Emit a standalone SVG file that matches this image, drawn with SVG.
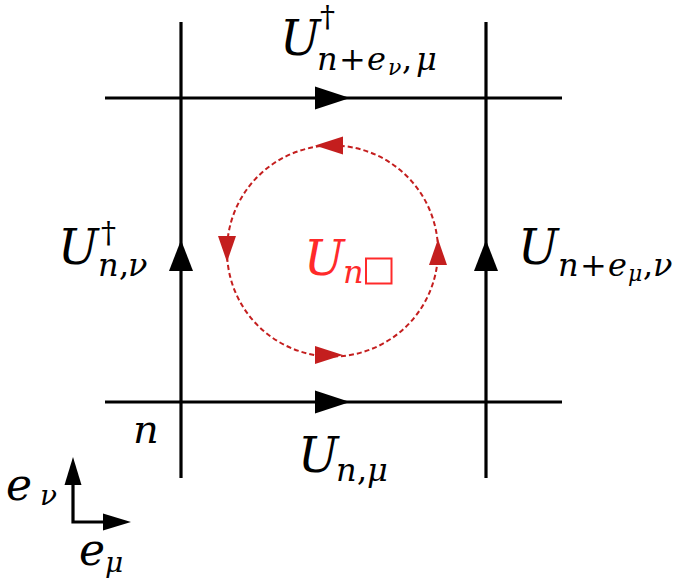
<svg xmlns="http://www.w3.org/2000/svg" width="689" height="581" viewBox="0 0 689 581">
<style>
.ln{stroke:#000;stroke-width:3.2;fill:none}
.ah{fill:#000}
.rc{stroke:#c41e1e;stroke-width:2;fill:none;stroke-dasharray:5 3}
.rh{fill:#c41e1e}
.t{font-family:"DejaVu Serif","Liberation Serif",serif;font-style:italic;fill:#000}
.u{font-size:48px}
.s{font-size:32px}
.ss{font-size:22px}
.dg{font-size:30px;font-style:normal}
.up{font-style:normal}
.red{fill:#ff2a2a}
</style>
<rect width="689" height="581" fill="#fff"/>
<g id="connectors">
  <line class="ln" x1="181" y1="22" x2="181" y2="478"/>
  <line class="ln" x1="486" y1="22" x2="486" y2="478"/>
  <line class="ln" x1="105" y1="98" x2="562" y2="98"/>
  <line class="ln" x1="105" y1="402" x2="562" y2="402"/>
  <polygon class="ah" points="315,86.5 350,98 315,109.5"/>
  <polygon class="ah" points="315,390.5 350,402 315,413.5"/>
  <polygon class="ah" points="169,271 181,240 193,271"/>
  <polygon class="ah" points="474,271 486,240 498,271"/>
  <circle class="rc" cx="332.5" cy="251" r="105.5"/>
  <polygon class="rh" points="343,136.5 315,145.5 343,154.5"/>
  <polygon class="rh" points="315,346 343,355 315,364"/>
  <polygon class="rh" points="218,236 227,262 236,236"/>
  <polygon class="rh" points="429,265 438,239 447,265"/>
  <g id="axes">
    <polyline class="ln" points="73,480 73,522 106,522"/>
    <polygon class="ah" points="64.5,485 73,457 81.5,485"/>
    <polygon class="ah" points="103,513.5 131,522 103,530.5"/>
  </g>
</g>
<g id="label-top">
  <text class="t u" x="280" y="55">U</text>
  <text class="t dg" x="320" y="27">†</text>
  <text class="t s" y="70"><tspan x="317">n</tspan><tspan class="up" x="339">+</tspan><tspan x="367">e</tspan><tspan class="ss" x="388" y="75">ν</tspan><tspan class="up" x="402" y="70">,</tspan><tspan x="416">μ</tspan></text>
</g>
<g id="label-left">
  <text class="t u" x="58" y="264">U</text>
  <text class="t dg" x="101" y="243">†</text>
  <text class="t s" y="276"><tspan x="98">n</tspan><tspan class="up" x="119">,</tspan><tspan x="128">ν</tspan></text>
</g>
<g id="label-right">
  <text class="t u" x="518" y="264">U</text>
  <text class="t s" y="276"><tspan x="558">n</tspan><tspan class="up" x="580">+</tspan><tspan x="608">e</tspan><tspan class="ss" x="628" y="281">μ</tspan><tspan class="up" x="643" y="276">,</tspan><tspan x="653">ν</tspan></text>
</g>
<g id="label-bottom">
  <text class="t u" x="298" y="472">U</text>
  <text class="t s" y="481"><tspan x="336">n</tspan><tspan class="up" x="357">,</tspan><tspan x="367">μ</tspan></text>
</g>
<g id="label-n">
  <text class="t" style="font-size:40px" x="133" y="443">n</text>
</g>
<g id="label-plaquette">
  <text class="t u red" x="304" y="275">U</text>
  <text class="t s red" x="343" y="283">n</text>
  <rect x="366" y="258.5" width="25.5" height="25" fill="none" stroke="#ff2a2a" stroke-width="2"/>
</g>
<g id="label-axes">
  <text class="t" style="font-size:44px" x="6" y="500">e</text>
  <text class="t" style="font-size:28px" x="40" y="505">ν</text>
  <text class="t" style="font-size:44px" x="79" y="565">e</text>
  <text class="t" style="font-size:28px" x="105" y="572">μ</text>
</g>
</svg>
